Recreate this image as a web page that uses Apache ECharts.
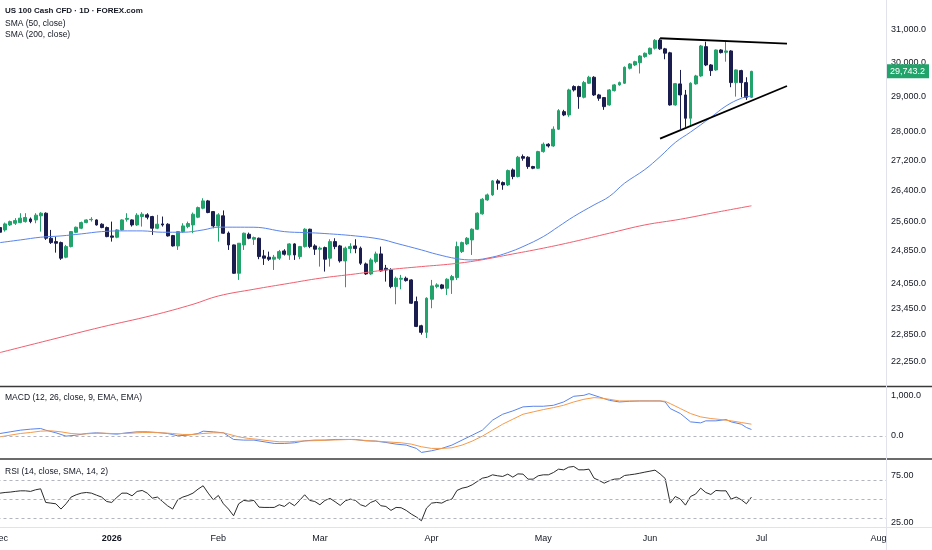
<!DOCTYPE html>
<html>
<head>
<meta charset="utf-8">
<script src="https://cdn.jsdelivr.net/npm/echarts@6/dist/echarts.min.js"></script>
<style>
html, body { margin: 0; padding: 0; background: #fff; }
#chart { width: 932px; height: 550px; }
</style>
</head>
<body>
<div id="chart"></div>
<script>
// daily bars, Dec 1 2025 .. Jun 29 2026 (axis runs on to early Aug)
var holidays = ['2025-12-25', '2026-01-01'];

var opens = [
    25440,25380,25507,25550,25567,25592,25660,25635,25740,25808,
    25170,25085,25060,24697,24960,25320,25423,25567,25640,25635,
    25525,25440,25228,25195,25380,25650,25635,25507,25722,25765,
    25722,25423,25533,25525,25236,24977,25337,25465,25507,25705,
    25937,26128,25850,25482,25740,25300,25002,24303,25002,25270,
    25145,25170,24729,24697,24647,24672,24852,24753,25027,24712,
    24960,25398,24977,24895,24935,24672,25085,24977,24605,24910,
    24977,24921,24531,24287,24589,24778,24425,24384,23981,24158,
    24182,24142,23624,23059,22908,23679,23981,24022,23941,24142,
    24198,24835,25027,25127,25398,25791,26153,26285,26656,26611,
    26549,26950,26772,27312,27294,27041,26996,27448,27651,27604,
    28070,28568,28474,29294,29294,28982,29392,29568,29050,28973,
    28760,29175,29343,29392,29835,29934,30003,30184,30265,30440,
    30690,30420,30300,28760,29372,29050,28380,29372,29607,30488,
    29934,29785,30386,30316,30356,29410,29765,29410,28982
];
var closes = [
    25321,25533,25592,25618,25681,25698,25592,25757,25808,25170,
    25060,25044,24672,24960,25337,25448,25567,25635,25650,25507,
    25440,25211,25195,25380,25635,25675,25507,25757,25782,25705,
    25423,25525,25507,25228,24977,25337,25482,25542,25782,25953,
    26128,25825,25482,25765,25296,25002,24303,25044,25296,25170,
    25186,24712,24672,24647,24697,24835,24770,25027,24753,24960,
    25398,24960,24895,24921,24647,25085,24960,24605,24921,24960,
    24910,24548,24287,24630,24778,24360,24384,23981,24182,24182,
    24125,23585,23044,22908,23703,23998,24022,23941,24158,24222,
    24960,25060,25170,25398,25808,26171,26285,26656,26594,26549,
    26932,26772,27294,27267,27041,26996,27448,27651,27604,28070,
    28597,28474,29195,29195,29001,29410,29568,29050,28953,28712,
    29195,29343,29410,29865,29964,30033,30204,30286,30437,30680,
    30420,30290,28760,29380,29050,28380,29392,29607,30508,29934,
    29765,30386,30306,30356,29410,29785,29410,28982,29743.2
];
var lows = [
    25300,25337,25482,25507,25550,25567,25550,25550,25337,25127,
    25027,24810,24630,24672,24940,25296,25400,25550,25592,25490,
    25423,25195,25085,25170,25365,25592,25465,25482,25465,25650,
    25253,25400,25465,25211,24960,24877,25310,25423,25296,25681,
    25910,25808,25423,25085,25280,24877,24290,24142,24877,25145,
    25002,24647,24507,24605,24384,24630,24737,24630,24630,24647,
    24935,24921,24753,24466,24344,24466,24895,24564,23965,24795,
    24795,24507,24263,24263,24548,24344,24101,23941,23561,23917,
    24101,23569,23029,22855,22779,23467,23941,23917,23782,23806,
    24142,24800,25000,24753,25380,25770,26130,26260,26420,26420,
    26520,26700,26750,27200,26980,26970,26980,27420,27560,27580,
    28050,28440,28420,29150,28650,28950,29370,29020,28880,28620,
    28740,29150,29320,29370,29800,29900,29680,30150,30240,30400,
    30390,30105,28740,28740,28078,28134,28150,29350,29580,29900,
    29607,29760,30280,30033,29275,29001,28982,28905,28960
];
var highs = [
    25450,25567,25618,25681,25808,25808,25698,25808,25834,25830,
    25380,25211,25085,25002,25350,25465,25592,25650,25705,25650,
    25550,25465,25592,25400,25650,25808,25650,25808,25834,25808,
    25740,25765,25722,25550,25253,25350,25550,25592,25825,25980,
    26197,26153,25865,25808,25880,25340,25010,25050,25312,25312,
    25211,25186,24877,24835,24753,24877,24895,25044,25044,24977,
    25423,25410,25019,24960,24960,25145,25170,25002,24960,25044,
    25145,24960,24564,24672,24835,24960,24507,24425,24222,24263,
    24222,24158,23742,23082,23726,24142,24061,24045,24182,24263,
    25085,25085,25200,25420,25830,26200,26320,26680,26700,26640,
    26960,26990,27330,27370,27320,27060,27470,27700,27680,28150,
    28640,28620,29230,29330,29320,29460,29610,29600,29080,28990,
    29220,29370,29440,29890,29990,30060,30230,30310,30460,30720,
    30745,30450,30330,29400,29785,29195,29420,29640,30540,30640,
    29960,30400,30410,30640,30380,29800,29790,29568,29760
];

// moving averages: [bar index, value]
var sma50 = [
    [0,25060],[4,25127],[8,25195],[12,25228],[16,25279],[20,25337],[24,25355],
    [28,25355],[32,25321],[36,25321],[40,25380],[43,25450],[50,25448],[56,25337],
    [60,25312],[63,25296],[70,25228],[75,25145],[78,25044],[83,24877],[86,24770],
    [90,24660],[93,24630],[97,24700],[100,24810],[103,24960],[107,25211],[110,25465],
    [113,25722],[117,26023],[120,26243],[123,26594],[127,26960],[130,27310],
    [133,27700],[136,27990],[140,28404],[143,28731],[146,28953],[148,29020]
];
var sma200 = [
    [0,22450],[10,22740],[20,23030],[30,23300],[38,23560],[43,23757],[50,23917],
    [57,24061],[63,24182],[70,24287],[76,24384],[83,24466],[89,24531],[94,24613],
    [100,24753],[107,24921],[113,25085],[120,25296],[127,25507],[134,25653],
    [141,25830],[148,26000]
];

var macdLine = [
    [0,57],[2,98],[4,139],[6,164],[8,180],[9,139],[11,74],[13,-8],[15,16],[17,57],
    [19,74],[21,57],[23,41],[25,74],[27,98],[29,98],[31,82],[33,57],[35,0],[37,16],
    [39,57],[40,115],[42,98],[44,74],[45,-8],[46,-90],[48,-106],[50,-106],[52,-147],
    [54,-188],[56,-188],[58,-172],[60,-123],[62,-106],[64,-106],[66,-90],[68,-90],
    [70,-90],[72,-123],[74,-131],[76,-164],[78,-205],[80,-229],[82,-311],[83,-410],
    [85,-369],[87,-311],[89,-229],[91,-106],[93,16],[95,139],[97,385],[99,532],
    [101,614],[103,713],[105,729],[107,729],[109,753],[111,835],[113,975],[115,999],
    [116,1040],[118,958],[120,876],[122,835],[124,852],[126,860],[128,860],[130,860],
    [131,835],[132,672],[134,549],[136,344],[138,319],[139,369],[141,369],[143,401],
    [144,344],[146,287],[147,205],[148,156]
];
var signalLine = [
    [0,-25],[2,16],[4,57],[6,82],[8,115],[10,123],[12,98],[14,57],[16,41],[18,57],
    [20,66],[22,57],[24,57],[26,66],[28,82],[30,82],[32,74],[34,57],[36,33],[38,33],
    [40,57],[42,74],[44,74],[45,41],[47,-25],[49,-66],[51,-90],[53,-123],[55,-147],
    [57,-147],[59,-131],[61,-123],[63,-115],[65,-106],[67,-98],[69,-90],[71,-106],
    [73,-123],[75,-139],[77,-156],[79,-172],[81,-205],[83,-270],[85,-311],[87,-311],
    [89,-295],[91,-229],[93,-131],[95,-8],[97,139],[99,287],[101,410],[103,532],
    [105,590],[107,647],[109,696],[111,753],[113,835],[115,901],[117,942],[118,934],
    [120,901],[122,860],[124,860],[126,860],[128,860],[130,860],[131,852],[132,794],
    [134,672],[136,549],[138,467],[140,426],[142,401],[144,369],[146,328],[148,287]
];

var rsi = [
    56.1,56.8,57.2,57.9,58.5,58.5,57.9,59.6,60.6,46.4,
    45.7,45,39.5,45,52,54.4,56.1,56.8,56.1,54,
    52,47.4,46.4,51.6,56.1,56.1,53.3,57.9,58.9,56.1,
    50.9,52,47.4,42.9,39.5,49.2,52,53.7,56.1,60.3,
    63.8,56.1,49.2,53.7,45,39.5,32.5,45,48.5,47.8,
    48.5,41.5,41.2,41.2,41.2,44,42.2,46.4,43,48.5,
    54.4,48.5,47.4,44,48.5,50.6,47.1,43.3,48.1,49.9,
    48.5,44,42.2,46.4,48.5,43,42.2,38.1,41.2,40.9,
    38.1,34.3,31.2,27.3,40.5,45.7,46.4,45.7,48.5,49.9,
    58.9,61.3,62.4,64.8,68.3,71.7,72.8,75.2,74.2,73.5,
    75.9,72.8,76.2,75.9,70.7,70.7,74.2,75.2,75.2,77.6,
    81.1,80.4,83.2,83.9,80.4,80.4,81.1,71.7,69.3,66.5,
    69,70.7,71,74.5,75.2,75.9,76.9,78,79,80.1,
    76.2,71.4,45.7,52.6,49.9,43.6,52.6,55.1,61.3,56.8,
    54.7,58.9,58.5,58.5,49.9,52,49.2,45,52
];

// hand-drawn triangle: [start index, start price, end index, end price]
var upperTrend = [130, 30744, 155, 30580];
var lowerTrend = [130, 27806, 155, 29310];

var priceTicks = [22250, 22850, 23450, 24050, 24850, 25600, 26400, 27200, 28000, 29000, 30000, 31000];
var macdTicks = [0, 1000];
var rsiTicks = [25, 75];
var rsiBands = [30, 50, 70];
var monthNames = ['Jan','Feb','Mar','Apr','May','Jun','Jul','Aug','Sep','Oct','Nov','Dec'];

var dates = [];
var d = new Date(Date.UTC(2025, 11, 1));
var last = new Date(Date.UTC(2026, 7, 4));
while (d <= last) {
    var wd = d.getUTCDay();
    var s = d.toISOString().slice(0, 10);
    if (wd !== 0 && wd !== 6 && holidays.indexOf(s) < 0) dates.push(s);
    d.setUTCDate(d.getUTCDate() + 1);
}

var candles = opens.map(function (o, i) { return [o, closes[i], lows[i], highs[i]]; });
var lastClose = closes[closes.length - 1];

var FONT = 'Liberation Sans, Arial, sans-serif';
var TXT = '#131722';
var UP = '#22a36b';
var DOWN = '#1b1d4e';

function fmt(v, dec) {
    return Number(v).toLocaleString('en-US', {minimumFractionDigits: dec, maximumFractionDigits: dec});
}
function monthStart(i) {
    return i === 0 || dates[i].slice(5, 7) !== dates[i - 1].slice(5, 7);
}

function xAx(grid, showLabels) {
    return {
        type: 'category',
        gridIndex: grid,
        data: dates,
        boundaryGap: true,
        axisLine: {show: false},
        axisTick: {show: false},
        splitLine: {show: false},
        axisPointer: {show: false},
        axisLabel: showLabels ? {
            show: true,
            interval: function (i) { return monthStart(i); },
            formatter: function (v) {
                var m = parseInt(v.slice(5, 7), 10);
                if (m === 1) return '{b|' + v.slice(0, 4) + '}';
                return monthNames[m - 1];
            },
            align: 'center',
            alignMinLabel: 'center',
            alignMaxLabel: 'center',
            margin: 7,
            fontSize: 9,
            color: TXT,
            fontFamily: FONT,
            rich: {b: {fontWeight: 'bold', fontSize: 9, color: TXT, fontFamily: FONT, align: 'center'}}
        } : {show: false}
    };
}

function yLabels(ticks, dec) {
    return {
        customValues: ticks,
        formatter: function (v) { return fmt(Math.round(v * 100) / 100, dec); },
        margin: 5,
        fontSize: 9,
        color: TXT,
        fontFamily: FONT
    };
}

var titleStyle = {fontSize: 8.5, fontWeight: 'normal', color: TXT, fontFamily: FONT};

var chart = echarts.init(document.getElementById('chart'));
chart.setOption({
    animation: false,
    backgroundColor: '#fff',
    title: [
        {text: 'US 100 Cash CFD · 1D · FOREX.com', left: 5, top: 7, padding: 0,
         textStyle: {fontSize: 8, fontWeight: 'bold', color: TXT, fontFamily: FONT}},
        {text: 'SMA (50, close)', left: 5, top: 19, padding: 0, textStyle: titleStyle},
        {text: 'SMA (200, close)', left: 5, top: 30, padding: 0, textStyle: titleStyle},
        {text: 'MACD (12, 26, close, 9, EMA, EMA)', left: 5, top: 393, padding: 0, textStyle: titleStyle},
        {text: 'RSI (14, close, SMA, 14, 2)', left: 5, top: 467, padding: 0, textStyle: titleStyle}
    ],
    grid: [
        {left: -2.5, right: 46, top: 0, height: 386.5, outerBoundsMode: 'none', containLabel: false},
        {left: -2.5, right: 46, top: 387, height: 72, outerBoundsMode: 'none', containLabel: false},
        {left: -2.5, right: 46, top: 459, height: 68, outerBoundsMode: 'none', containLabel: false}
    ],
    xAxis: [xAx(0, false), xAx(1, false), xAx(2, true)],
    yAxis: [
        {type: 'log', logBase: 10, gridIndex: 0, position: 'right', min: 21700, max: 31944,
         axisLine: {show: false}, axisTick: {show: false}, splitLine: {show: false},
         axisLabel: yLabels(priceTicks, 1)},
        {type: 'value', gridIndex: 1, position: 'right', min: -572, max: 1204,
         axisLine: {show: false}, axisTick: {show: false}, splitLine: {show: false},
         axisLabel: yLabels(macdTicks, 1)},
        {type: 'value', gridIndex: 2, position: 'right', min: 20.8, max: 91.7,
         axisLine: {show: false}, axisTick: {show: false}, splitLine: {show: false},
         axisLabel: yLabels(rsiTicks, 2)}
    ],
    graphic: [
        {type: 'line', z: 100, shape: {x1: 0, y1: 386.5, x2: 932, y2: 386.5}, style: {stroke: '#3a3a3a', lineWidth: 1.5}},
        {type: 'line', z: 100, shape: {x1: 0, y1: 459, x2: 932, y2: 459}, style: {stroke: '#3a3a3a', lineWidth: 1.5}},
        {type: 'line', z: 100, shape: {x1: 0, y1: 527.5, x2: 932, y2: 527.5}, style: {stroke: '#e0e3eb', lineWidth: 1}},
        {type: 'line', z: 100, shape: {x1: 886.5, y1: 0, x2: 886.5, y2: 550}, style: {stroke: '#e0e3eb', lineWidth: 1}}
    ],
    series: [
        {
            name: 'US 100',
            type: 'candlestick',
            xAxisIndex: 0, yAxisIndex: 0,
            data: candles,
            barWidth: 3.4,
            itemStyle: {color: UP, color0: DOWN, borderColor: UP, borderColor0: DOWN, borderWidth: 1},
            markLine: {
                silent: true,
                symbol: ['none', 'none'],
                label: {show: false},
                lineStyle: {color: '#000', width: 1.8, type: 'solid'},
                data: [
                    [{coord: [upperTrend[0], upperTrend[1]]}, {coord: [upperTrend[2], upperTrend[3]]}],
                    [{coord: [lowerTrend[0], lowerTrend[1]]}, {coord: [lowerTrend[2], lowerTrend[3]]}]
                ]
            }
        },
        {
            name: 'SMA 50', type: 'line', xAxisIndex: 0, yAxisIndex: 0,
            data: sma50, showSymbol: false, smooth: 0.4,
            lineStyle: {color: '#5a84ec', width: 1},
            // last close tag on the price scale
            markLine: {
                silent: true,
                symbol: ['none', 'none'],
                lineStyle: {color: 'rgba(0,0,0,0)', width: 1, type: 'solid'},
                label: {show: true, position: 'end', distance: 0,
                        formatter: function () { return fmt(lastClose, 1); },
                        backgroundColor: UP, color: '#fff', padding: [3, 4, 2, 4],
                        fontSize: 9, fontFamily: FONT},
                data: [{yAxis: lastClose}]
            }
        },
        {
            name: 'SMA 200', type: 'line', xAxisIndex: 0, yAxisIndex: 0,
            data: sma200, showSymbol: false, smooth: 0.4,
            lineStyle: {color: '#ef6070', width: 1}
        },
        {
            name: 'MACD', type: 'line', xAxisIndex: 1, yAxisIndex: 1,
            data: macdLine, showSymbol: false,
            lineStyle: {color: '#5a84ec', width: 1},
            markLine: {
                silent: true, symbol: ['none', 'none'], label: {show: false},
                lineStyle: {color: '#b2b5be', type: [3, 3], width: 1},
                data: [{yAxis: 0}]
            }
        },
        {
            name: 'Signal', type: 'line', xAxisIndex: 1, yAxisIndex: 1,
            data: signalLine, showSymbol: false,
            lineStyle: {color: '#f59a4a', width: 1}
        },
        {
            name: 'RSI', type: 'line', xAxisIndex: 2, yAxisIndex: 2,
            data: rsi, showSymbol: false,
            lineStyle: {color: '#2b2b2b', width: 1},
            markLine: {
                silent: true, symbol: ['none', 'none'], label: {show: false},
                lineStyle: {color: '#b2b5be', type: [3, 3], width: 1},
                data: rsiBands.map(function (b) { return {yAxis: b}; })
            }
        }
    ]
});
</script>
</body>
</html>
